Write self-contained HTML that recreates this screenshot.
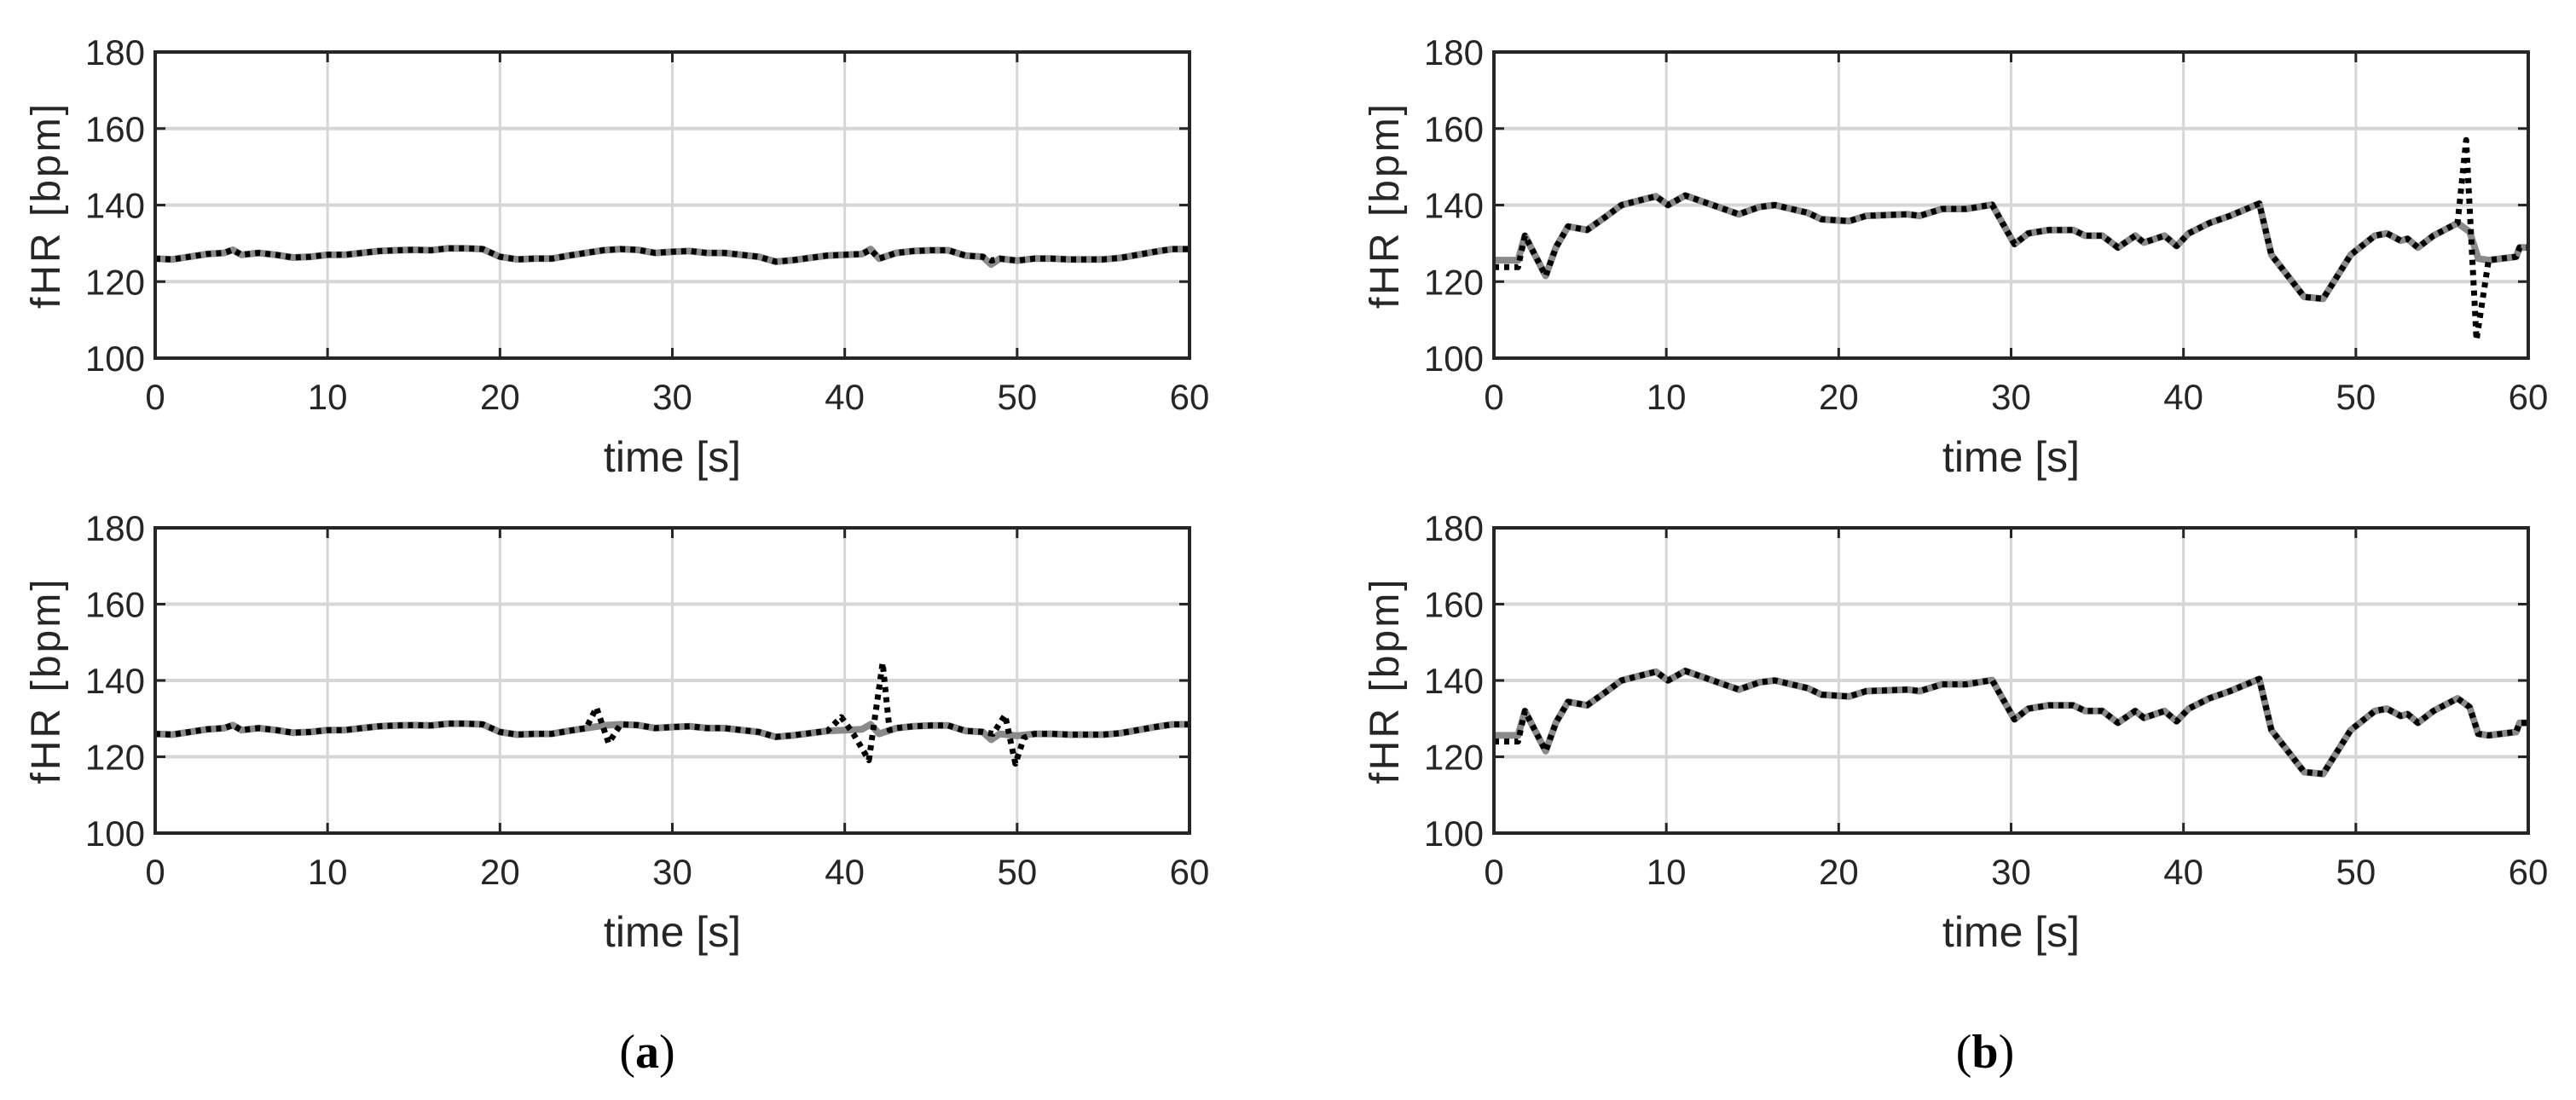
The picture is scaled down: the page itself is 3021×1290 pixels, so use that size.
<!DOCTYPE html>
<html><head><meta charset="utf-8"><style>
html,body{margin:0;padding:0;background:#fff;}
svg{display:block;}
text{font-family:"Liberation Sans",Arial,sans-serif;fill:#262626;}
</style></head><body>
<svg id="fig" width="3021" height="1290" viewBox="0 0 3021 1290" xmlns="http://www.w3.org/2000/svg">
<rect width="3021" height="1290" fill="#fff"/>
<text x="759" y="1252" text-anchor="middle" style="font-family:'Liberation Serif',serif;font-size:56px;fill:#000">(<tspan font-weight="bold">a</tspan>)</text>
<text x="2328" y="1252" text-anchor="middle" style="font-family:'Liberation Serif',serif;font-size:56px;fill:#000">(<tspan font-weight="bold">b</tspan>)</text>
</svg>
<script>
// Shared x-axis tick values and y-axis tick values
const xTicks = [0,10,20,30,40,50,60];
const yTicks = [100,120,140,160,180];

// Panel (a) reference (gray) series
const aTime = [0,1,2,3,4,4.5,5,6,7,8,9,10,11,12,13,14,15,16,17,18,19,20,21,22,23,24,25,26,27,28,29,30,31,32,33,34,35,36,37,38,39,40,41,41.5,42,43,44,45,46,47,48,48.5,49,50,51,52,53,54,55,56,57,58,59,60];
const aRef  = [126,125.8,126.5,127.2,127.5,128.3,127,127.5,127,126.3,126.5,127,127,127.5,128,128.2,128.3,128.2,128.7,128.7,128.5,126.5,125.8,126,126,126.8,127.5,128.2,128.5,128.3,127.5,127.8,128,127.5,127.5,127,126.5,125.2,125.6,126.2,126.8,127,127.2,128.5,126,127.5,128,128.2,128.2,126.8,126.5,124.5,126,125.5,126,126,125.8,125.8,125.8,126.2,127,127.8,128.5,128.5];
// Top-left estimate (dotted): follows ref closely
const aEstTop = [126,125.8,126.5,127.2,127.5,128.3,127,127.5,127,126.3,126.5,127,127,127.5,128,128.2,128.3,128.2,128.7,128.7,128.5,126.5,125.8,126,126,126.8,127.5,128.2,128.5,128.3,127.5,127.8,128,127.5,127.5,127,126.5,125.2,125.6,126.2,126.8,127,127.2,128.3,126,127.5,128,128.2,128.2,126.8,126.5,125.5,126,125.5,126,126,125.8,125.8,125.8,126.2,127,127.8,128.5,128.5];
// Bottom-left estimate (dotted) with spikes
const aEstBotTime = [0,1,2,3,4,4.5,5,6,7,8,9,10,11,12,13,14,15,16,17,18,19,20,21,22,23,24,25,25.6,26.3,27,28,29,30,31,32,33,34,35,36,37,38,39,39.8,40.5,41.4,42.2,42.6,43,44,45,46,47,48,48.6,49.3,49.9,50.4,51,52,53,54,55,56,57,58,59,60];
const aEstBot = [126,125.8,126.5,127.2,127.5,128.3,127,127.5,127,126.3,126.5,127,127,127.5,128,128.2,128.3,128.2,128.7,128.7,128.5,126.5,125.8,126,126,126.8,127.5,132.9,123.6,128.5,128.3,127.5,127.8,128,127.5,127.5,127,126.5,125.2,125.6,126.2,126.8,130.4,126,119.1,144.6,127,127.5,128,128.2,128.2,126.8,126.5,126,130.9,118.2,125,126,126,125.8,125.8,125.8,126.2,127,127.8,128.5,128.5];

// Panel (b) reference (gray) series
const bTime = [0,1.4,1.8,3,3.6,4.3,5.4,6.5,7.4,8.6,9.4,10.1,11.1,13,14.2,15.4,16.3,18.2,19,20.6,21.6,24,24.7,26,27.4,28.9,29.5,30.2,31,32.2,33.6,34.3,35.3,36.2,37.2,37.7,38.9,39.6,40.3,41.5,42.7,44.4,45.1,47,48.1,49.7,51.1,51.8,52.6,53,53.6,54.5,55.9,56.6,57.1,57.7,59.3,59.5,60];
const bRef  = [125.6,125.6,132,121.5,129,134.4,133.5,137,140,141.4,142.3,140,142.5,139.5,137.6,139.5,140,138,136.3,135.8,137.2,137.6,137.2,139,139,140.1,135.3,129.8,132.6,133.5,133.5,132,132,128.9,132,130.2,132,129.3,132.6,135.3,137.2,140.4,127,116,115.5,127,132,132.6,130.7,131.2,128.9,132,135.3,133,126,125.6,126.5,128.9,128.9];
// Top-right estimate (dotted) with spike near 56-57 s
const bEstTopTime = [0,1.4,1.8,3,3.6,4.3,5.4,6.5,7.4,8.6,9.4,10.1,11.1,13,14.2,15.4,16.3,18.2,19,20.6,21.6,24,24.7,26,27.4,28.9,29.5,30.2,31,32.2,33.6,34.3,35.3,36.2,37.2,37.7,38.9,39.6,40.3,41.5,42.7,44.4,45.1,47,48.1,49.7,51.1,51.8,52.6,53,53.6,54.5,55.9,56.4,57,57.7,59.3,59.5,60];
const bEstTop = [123.8,123.8,132,121.5,129,134.4,133.5,137,140,141.4,142.3,140,142.5,139.5,137.6,139.5,140,138,136.3,135.8,137.2,137.6,137.2,139,139,140.1,135.3,129.8,132.6,133.5,133.5,132,132,128.9,132,130.2,132,129.3,132.6,135.3,137.2,140.4,127,116,115.5,127,132,132.6,130.7,131.2,128.9,132,135.3,157,104.8,125.6,126.5,128.9,128.9];
// Bottom-right estimate (dotted)
const bEstBot = [124,124,132,121.5,129,134.4,133.5,137,140,141.4,142.3,140,142.5,139.5,137.6,139.5,140,138,136.3,135.8,137.2,137.6,137.2,139,139,140.1,135.3,129.8,132.6,133.5,133.5,132,132,128.9,132,130.2,132,129.3,132.6,135.3,137.2,140.4,127,116,115.5,127,132,132.6,130.7,131.2,128.9,132,135.3,133,126,125.6,126.5,128.9,128.9];

const NS = 'http://www.w3.org/2000/svg';
const svg = document.getElementById('fig');
function mk(tag, attrs, parent){
  const e = document.createElementNS(NS, tag);
  for (const k in attrs) e.setAttribute(k, attrs[k]);
  (parent||svg).appendChild(e);
  return e;
}

function panel(id, x0, x1, y0, y1, ylabX, series){
  const g = mk('g', {});
  
  
  const sx = v => x0 + (v - 0) / 60 * (x1 - x0);
  const sy = v => y1 - (v - 100) / 80 * (y1 - y0);
  xTicks.forEach(t => {
    if (t > 0 && t < 60) {
      const l = mk('line', {x1:sx(t), x2:sx(t), y1:y0, y2:y1, stroke:'#d6d6d6', 'stroke-width':3}, g);
      
      
    }
  });
  yTicks.forEach(t => {
    if (t > 100 && t < 180) {
      const l = mk('line', {x1:x0, x2:x1, y1:sy(t), y2:sy(t), stroke:'#d6d6d6', 'stroke-width':4}, g);
      
      
    }
  });
  series.forEach(s => {
    const d = s.x.map((t,i) => (i?'L':'M') + sx(t).toFixed(1) + ',' + sy(s.y[i]).toFixed(1)).join(' ');
    const p = mk('path', {d:d, fill:'none', stroke:s.color, 'stroke-width':s.w, 'stroke-dasharray':s.dash||'none', 'stroke-linejoin':'round'}, g);
    
    
  });
  const box = mk('rect', {x:x0, y:y0, width:x1-x0, height:y1-y0, fill:'none', stroke:'#262626', 'stroke-width':4}, g);
  
  
  xTicks.forEach(t => {
    mk('line', {x1:sx(t), x2:sx(t), y1:y1, y2:y1-12, stroke:'#262626', 'stroke-width':3}, g);
    mk('line', {x1:sx(t), x2:sx(t), y1:y0, y2:y0+12, stroke:'#262626', 'stroke-width':3}, g);
    const tx = mk('text', {x:sx(t), y:y1+60, 'text-anchor':'middle', 'font-size':42}, g);
    tx.textContent = t;
    
    
  });
  yTicks.forEach(t => {
    mk('line', {x1:x0, x2:x0+12, y1:sy(t), y2:sy(t), stroke:'#262626', 'stroke-width':3}, g);
    mk('line', {x1:x1, x2:x1-12, y1:sy(t), y2:sy(t), stroke:'#262626', 'stroke-width':3}, g);
    const ty = mk('text', {x:x0-12, y:sy(t)+15, 'text-anchor':'end', 'font-size':42}, g);
    ty.textContent = t;
    
    
  });
  const xl = mk('text', {x:(x0+x1)/2, y:y1+133, 'text-anchor':'middle', 'font-size':50}, g);
  xl.textContent = 'time [s]';
  
  
  const yc = (y0+y1)/2;
  const yl = mk('text', {x:ylabX, y:yc, 'text-anchor':'middle', 'font-size':48, 'letter-spacing':3, transform:'rotate(-90 '+ylabX+' '+yc+')'}, g);
  yl.textContent = 'fHR [bpm]';
  
  
}

const GRAY = '#8a8a8a', BLK = '#000';
panel('panel-a-top', 182, 1395, 61, 420, 70, [
  {name:'reference-line', x:aTime, y:aRef, color:GRAY, w:8},
  {name:'estimate-line', x:aTime, y:aEstTop, color:BLK, w:7, dash:'6 6'}
]);
panel('panel-a-bottom', 182, 1395, 619, 977, 70, [
  {name:'reference-line', x:aTime, y:aRef, color:GRAY, w:8},
  {name:'estimate-line', x:aEstBotTime, y:aEstBot, color:BLK, w:7, dash:'6 6'}
]);
panel('panel-b-top', 1752, 2965, 61, 420, 1640, [
  {name:'reference-line', x:bTime, y:bRef, color:GRAY, w:8},
  {name:'estimate-line', x:bEstTopTime, y:bEstTop, color:BLK, w:7, dash:'6 6'}
]);
panel('panel-b-bottom', 1752, 2965, 619, 977, 1640, [
  {name:'reference-line', x:bTime, y:bRef, color:GRAY, w:8},
  {name:'estimate-line', x:bTime, y:bEstBot, color:BLK, w:7, dash:'6 6'}
]);
</script>
</body></html>
